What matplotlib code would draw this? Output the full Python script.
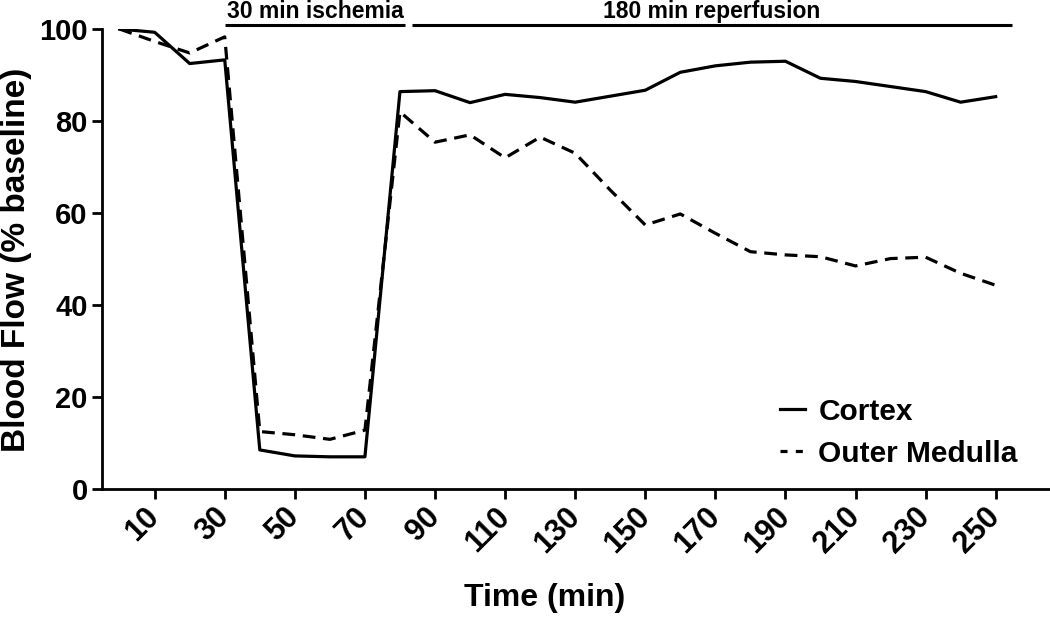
import matplotlib
matplotlib.use("Agg")
import matplotlib.pyplot as plt
from matplotlib.lines import Line2D

plt.rcParams['font.family'] = ['Liberation Sans', 'DejaVu Sans']
plt.rcParams['font.weight'] = 'bold'

time = [0, 10, 20, 30, 40, 50, 60, 70, 80, 90, 100, 110, 120, 130, 140, 150,
        160, 170, 180, 190, 200, 210, 220, 230, 240, 250]
cortex = [100, 99.3, 92.5, 93.3, 8.5, 7.2, 7.0, 7.0, 86.4, 86.6, 84.0, 85.8,
          85.1, 84.1, 85.4, 86.7, 90.6, 92.0, 92.8, 93.0, 89.3, 88.6, 87.5,
          86.4, 84.1, 85.3]
medulla = [100, 97.3, 94.8, 98.3, 12.5, 11.8, 10.8, 12.8, 82.0, 75.4, 77.0,
           72.0, 76.5, 73.0, 65.0, 57.4, 59.8, 55.6, 51.6, 50.9, 50.5, 48.5,
           50.1, 50.4, 46.9, 44.3]
xticks = list(range(10, 251, 20))
yticks = [0, 20, 40, 60, 80, 100]
periods = [("30 min ischemia", 30.1, 81.4), ("180 min reperfusion", 83.5, 254.6)]

fig = plt.figure(figsize=(10.5, 6.18), dpi=100)
ax = fig.add_axes([0.0969, 0.2087, 0.9031, 0.7443])

ax.plot(time, cortex, color='black', lw=2.3, label='Cortex')
ax.plot(time, medulla, color='black', lw=2.3, dashes=(4, 2.4), label='Outer Medulla')

ax.set_xlim(-5.1, 265.5)
ax.set_ylim(0, 100)
ax.set_xticks(xticks)
ax.set_xticklabels([str(t) for t in xticks], rotation=45, ha='right',
                   va='center', rotation_mode='anchor', fontsize=22,
                   fontweight='bold')
ax.set_yticks(yticks)
ax.set_yticklabels([str(v) for v in yticks], fontsize=21, fontweight='bold')
ax.tick_params(axis='both', direction='out', length=7, width=2)
ax.tick_params(axis='x', pad=10)
ax.tick_params(axis='y', pad=3)
for s in ['top', 'right']:
    ax.spines[s].set_visible(False)
for s in ['left', 'bottom']:
    ax.spines[s].set_linewidth(2)

ax.set_xlabel('Time (min)', fontsize=23, fontweight='bold')
ax.xaxis.set_label_coords(0.4675, -0.205)
ax.set_ylabel('Blood Flow (% baseline)', fontsize=24, fontweight='bold')
ax.yaxis.set_label_coords(-0.0735, 0.498)

for label, x0, x1 in periods:
    ax.plot([x0, x1], [100.9, 100.9], color='black', lw=2.2, clip_on=False,
            solid_capstyle='butt')
    ax.text((x0 + x1) / 2, 102.4, label, ha='center', va='baseline',
            fontsize=16.5, fontweight='bold')

handles = [Line2D([], [], color='black', lw=2.3),
           Line2D([], [], color='black', lw=2.3, dashes=(2.2, 2.6))]
leg = ax.legend(handles, ['Cortex', 'Outer Medulla'], loc='center left',
                bbox_to_anchor=(0.687, 0.122), frameon=False,
                handlelength=0.83, handletextpad=0.45, labelspacing=0.47,
                prop={'weight': 'bold', 'size': 21.5})

fig.savefig('out.png', dpi=100)
